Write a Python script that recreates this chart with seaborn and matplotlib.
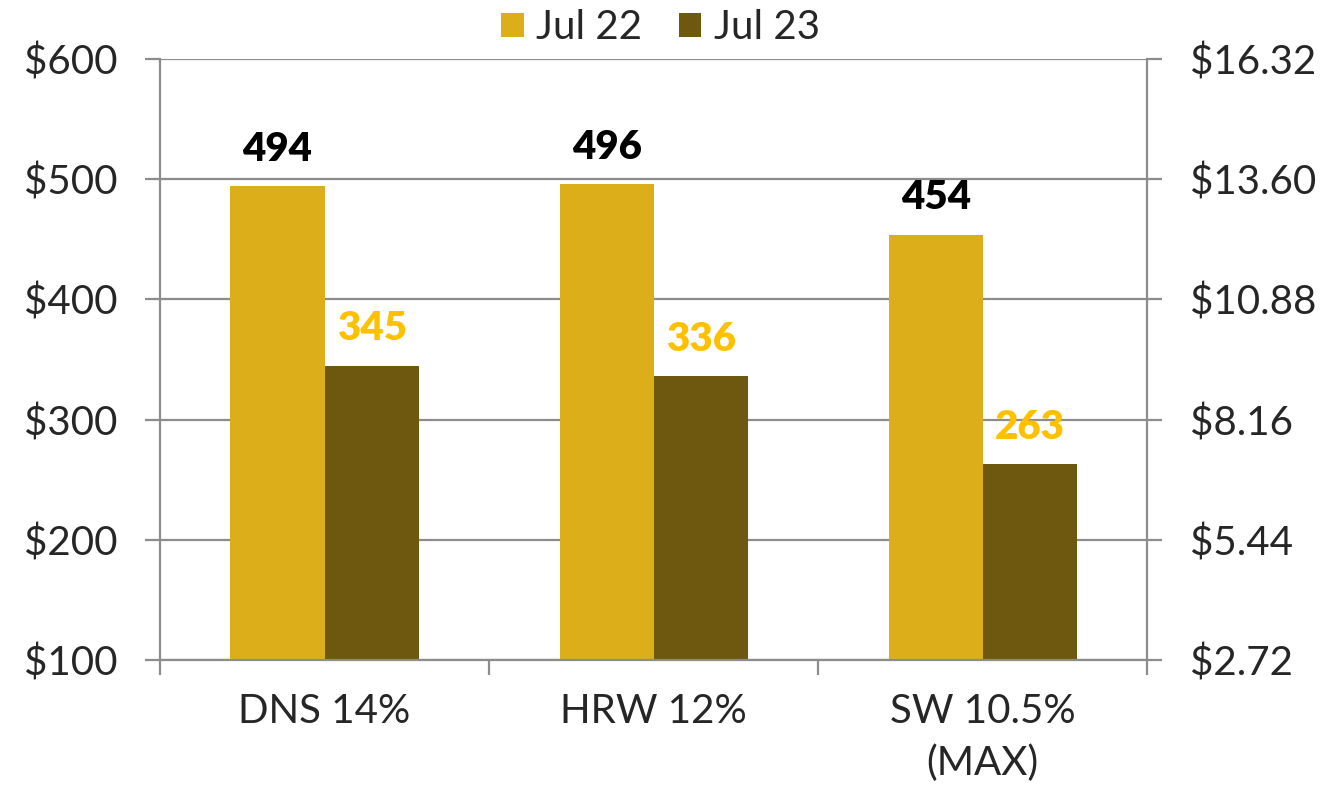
import matplotlib
matplotlib.use('Agg')
import matplotlib.pyplot as plt
from matplotlib.ticker import FixedLocator, NullFormatter
import seaborn as sns
import pandas as pd

categories = ['DNS 14%', 'HRW 12%', 'SW 10.5%\n(MAX)']
jul22 = [494, 496, 454]
jul23 = [345, 336, 263]
series = ['Jul 22', 'Jul 23']
left_ticks = [100, 200, 300, 400, 500, 600]
bu_factor = 0.0272  # $/ton -> $/bu

df = pd.DataFrame({
    'Clase': categories * 2,
    'Precio': jul22 + jul23,
    'Mes': [series[0]] * 3 + [series[1]] * 3,
})

sns.set_theme(style='white')
plt.rcParams['font.family'] = ['Lato', 'DejaVu Sans']

grid_gray = '#8c8c8c'
fs = 29

fig = plt.figure(figsize=(13.34, 7.91), dpi=100)
ax = fig.add_axes([0.12, 0.1656, 0.74, 0.7598])

sns.barplot(data=df, x='Clase', y='Precio', hue='Mes', order=categories,
            hue_order=series, palette=['#dcaf1a', '#6e570f'],
            width=0.572, gap=0, saturation=1, linewidth=0,
            ax=ax, legend=True)

ax.set_xlim(-0.5, 2.5)
ax.set_ylim(100, 600)
ax.set_yticks(left_ticks)
ax.set_yticklabels([f'${t}' for t in left_ticks], fontsize=fs)
ax.yaxis.grid(True, color=grid_gray, lw=1.6)
ax.set_axisbelow(True)
ax.set_xlabel('')
ax.set_ylabel('')

# category labels at centres, tick marks at boundaries
ax.tick_params(axis='x', which='major', length=0, pad=24, labelsize=fs)
for t in ax.get_xticklabels():
    t.set_linespacing(1.45)
ax.xaxis.set_minor_locator(FixedLocator([-0.5, 0.5, 1.5, 2.5]))
ax.xaxis.set_minor_formatter(NullFormatter())
ax.tick_params(axis='x', which='minor', length=11, width=1.6,
               color=grid_gray, direction='out', bottom=True)
ax.tick_params(axis='y', length=11, width=1.6, color=grid_gray,
               direction='out', left=True, pad=20)

for side in ['left', 'bottom', 'right']:
    ax.spines[side].set_color(grid_gray)
    ax.spines[side].set_linewidth(1.6)
ax.spines['top'].set_visible(False)

label_colors = ['black', '#ffc000']
for cont, col in zip(ax.containers, label_colors):
    ax.bar_label(cont, fmt='%d', padding=13, fontsize=fs,
                 fontweight='heavy', color=col)

ax2 = ax.twinx()
ax2.set_ylim(100 * bu_factor, 600 * bu_factor)
right_ticks = [t * bu_factor for t in left_ticks]
ax2.set_yticks(right_ticks)
ax2.set_yticklabels([f'${t:.2f}' for t in right_ticks], fontsize=fs)
ax2.tick_params(axis='y', length=11, width=1.6, color=grid_gray,
                direction='out', right=True, pad=20)
for s in ax2.spines.values():
    s.set_visible(False)
ax2.grid(False)

handles, labels = ax.get_legend_handles_labels()
ax.get_legend().remove()
fig.legend(handles, labels, loc='center', bbox_to_anchor=(0.495, 0.965),
           ncol=2, frameon=False, fontsize=fs, handlelength=0.57,
           handleheight=0.57, handletextpad=0.3, columnspacing=0.9)

fig.savefig('out.png', dpi=100)
